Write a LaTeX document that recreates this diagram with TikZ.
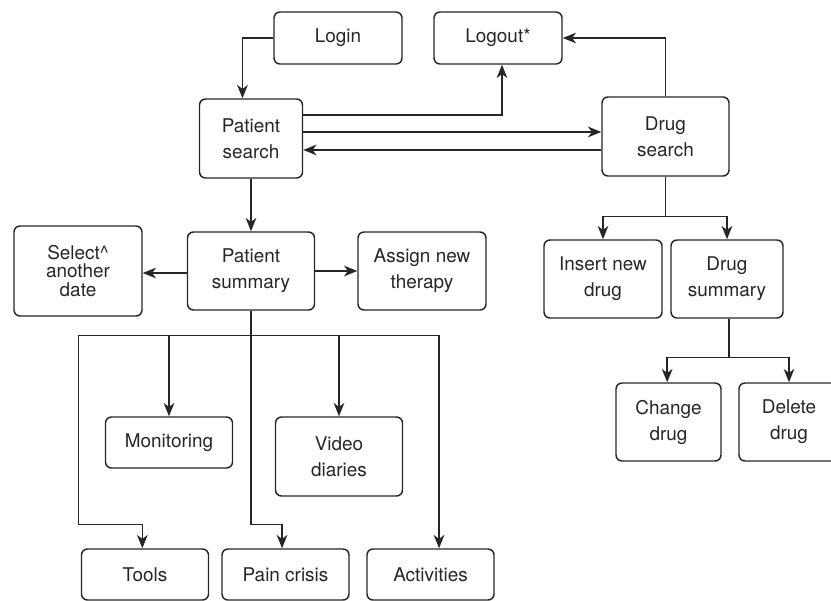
\documentclass[tikz,border=0pt]{standalone}
\usepackage{fontspec}
\setmainfont{TeX Gyre Heros}
\usetikzlibrary{arrows.meta,calc}
\definecolor{ink}{HTML}{262626}
\begin{document}
\begin{tikzpicture}[x=0.75pt,y=-0.75pt,
 box/.style={draw=ink, line width=1.1pt, rounded corners=4.5pt, inner sep=0pt, align=center, text=ink, font=\fontsize{14.2}{19.5}\selectfont},
 arr/.style={draw=ink, line width=1.1pt, -{Stealth[length=10pt,width=8pt,inset=3pt]}},
 ln/.style={draw=ink, line width=1.1pt}]
\useasboundingbox (0,0) rectangle (831,600);
\clip (0,0) rectangle (831,600);
% nodes
\node[box, minimum width=96pt, minimum height=39pt] (login) at (338,38) {Login};
\node[box, minimum width=96pt, minimum height=39pt] (logout) at (498,38) {Logout*};
\node[box, minimum width=77.25pt, minimum height=59.25pt] (psearch) at (251,138.5) {Patient\\search};
\node[box, minimum width=95.25pt, minimum height=59.25pt] (dsearch) at (665.5,136.5) {Drug\\search};
\node[box, minimum width=96pt, minimum height=67.5pt, font=\fontsize{14.2}{14}\selectfont] (select) at (78,271) {Select\textasciicircum\\another\\date};
\node[box, minimum width=95.25pt, minimum height=58.5pt] (psum) at (251,271) {Patient\\summary};
\node[box, minimum width=96pt, minimum height=58.5pt] (assign) at (422,271) {Assign new\\therapy};
\node[box, minimum width=88.5pt, minimum height=58.5pt] (insert) at (603,279) {Insert new\\drug};
\node[box, minimum width=84pt, minimum height=58.5pt] (dsum) at (727,279) {Drug\\summary};
\node[box, minimum width=78.75pt, minimum height=58.5pt] (change) at (668.5,422) {Change\\drug};
\node[box, minimum width=75pt, minimum height=58.5pt] (delete) at (789,422) {Delete\\drug};
\node[box, minimum width=95.25pt, minimum height=38.25pt] (monitor) at (169,442.5) {Monitoring};
\node[box, minimum width=95.25pt, minimum height=59.25pt] (video) at (339,456.5) {Video\\diaries};
\node[box, minimum width=95.25pt, minimum height=38.25pt] (tools) at (145,574.5) {Tools};
\node[box, minimum width=95.25pt, minimum height=38.25pt] (pain) at (285.5,574.5) {Pain crisis};
\node[box, minimum width=95.25pt, minimum height=38.25pt] (activities) at (430.5,574.5) {Activities};
% top connectors
\draw[arr] (login.west) -| ([xshift=-6.4pt]psearch.north);
\coordinate (pa) at ([yshift=17.6pt]psearch.east);
\coordinate (pb) at ([yshift=4.9pt]psearch.east);
\coordinate (pc) at ([yshift=-8.6pt]psearch.east);
\draw[arr] (pa) -| ([xshift=3pt]logout.south);
\draw[arr] (pb) -- (pb -| dsearch.west);
\draw[arr] (pc -| dsearch.west) -- (pc);
\draw[arr] (dsearch.north) |- (logout.east);
\draw[arr] (psearch.south) -- (psum.north);
% drug branch
\coordinate (dj) at ([yshift=-30pt]dsearch.south);
\draw[ln] (dsearch.south) -- (dj);
\draw[arr] (dj) -| (insert.north);
\draw[arr] (dj) -| (dsum.north);
\coordinate (sj) at ([xshift=1.5pt,yshift=-29.25pt]dsum.south);
\draw[ln] ([xshift=1.5pt]dsum.south) -- (sj);
\draw[arr] (sj) -| ([xshift=-1pt]change.north);
\draw[arr] (sj) -| (delete.north);
% patient summary
\draw[arr] ([yshift=-1.5pt]psum.west) -- ([yshift=-1.5pt]psum.west -| select.east);
\draw[arr] (psum.east) -- (assign.west);
\coordinate (pj) at ([yshift=-18.75pt]psum.south);
\coordinate (lx) at ([xshift=-129.4pt]pj);
\coordinate (tb) at ([yshift=18pt]tools.north);
\draw[ln] (psum.south) -- (pj);
\draw[ln] (lx) -- (pj);
\draw[arr] (pj) -| (monitor.north);
\draw[arr] (pj) -| (video.north);
\draw[arr] (pj) -| ([xshift=6.4pt]activities.north);
\draw[arr] (lx) -- (lx |- tb) -| ([xshift=-2pt]tools.north);
\draw[arr] (pj) -- (pj |- tb) -| ([xshift=-2.6pt]pain.north);
\end{tikzpicture}
\end{document}
